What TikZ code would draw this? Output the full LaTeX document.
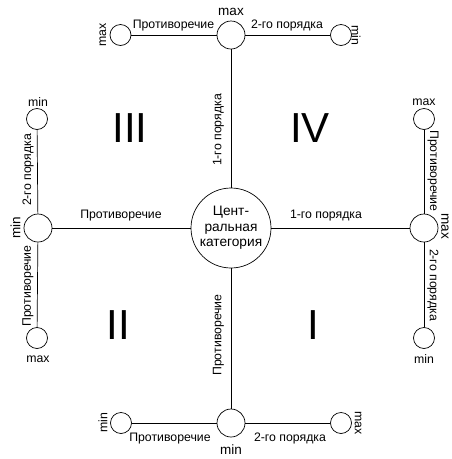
\documentclass[tikz,border=0pt]{standalone}
\usepackage{fontspec}
\setmainfont{Liberation Sans}
\begin{document}
\begin{tikzpicture}[x=1pt,y=-1pt,
  big/.style={draw,circle,line width=0.7pt,minimum size=80pt,inner sep=0pt},
  mid/.style={draw,circle,line width=0.7pt,minimum size=28pt,inner sep=0pt},
  sml/.style={draw,circle,line width=0.7pt,minimum size=21pt,inner sep=0pt},
  lbl/.style={inner sep=0pt,font=\fontsize{12.3pt}{13pt}\selectfont},
  bigl/.style={inner sep=0pt,font=\fontsize{13.5pt}{14pt}\selectfont},
  roman/.style={inner sep=0pt,font=\fontsize{42pt}{44pt}\selectfont},
  conn/.style={line width=0.7pt}]
\useasboundingbox (0,0) rectangle (452,459);
% circles
\node[big,align=center,font=\fontsize{13.7pt}{15.7pt}\selectfont] (c) at (231,228) {Цент-\\ральная\\категория};
\node[mid] (t) at (231,35) {};
\node[sml] (tl) at (120.5,35) {};
\node[sml] (tr) at (341,35) {};
\node[mid] (l) at (38,228) {};
\node[sml] (lt) at (37,119) {};
\node[sml] (lb) at (37,338) {};
\node[mid] (r) at (424,228) {};
\node[sml] (rt) at (424,119) {};
\node[sml] (rb) at (424,338) {};
\node[mid] (b) at (231,423) {};
\node[sml] (bl) at (121,423) {};
\node[sml] (br) at (341,423) {};
% connectors
\draw[conn] (c) -- (t);
\draw[conn] (t) -- (tl);
\draw[conn] (t) -- (tr);
\draw[conn] (c) -- (l);
\draw[conn] (l) -- (lt);
\draw[conn] (l) -- (lb);
\draw[conn] (c) -- (r);
\draw[conn] (r) -- (rt);
\draw[conn] (r) -- (rb);
\draw[conn] (c) -- (b);
\draw[conn] (b) -- (bl);
\draw[conn] (b) -- (br);
% roman numerals
\node[roman] (q3) at (130,128) {III};
\node[roman] (q4) at (310,128) {IV};
\node[roman] (q2) at (118,325) {II};
\node[roman] (q1) at (313,325) {I};
% top labels
\node[bigl] (tmax) at (231,12) {max};
\node[lbl,anchor=base] (tp) at (173.5,28.5) {Противоречие};
\node[lbl,anchor=base] (t2) at (287,28.5) {2-го порядка};
\node[lbl,rotate=90] (tlmax) at (103,35) {max};
\node[lbl,rotate=-90] (trmin) at (356,35) {min};
\node[lbl,rotate=90] (t1) at (218.5,130) {1-го порядка};
% left labels
\node[lbl] (ltmin) at (38,102) {min};
\node[lbl,rotate=90] (l2) at (28,170) {2-го порядка};
\node[bigl,rotate=90] (lmin) at (15.5,228) {min};
\node[lbl,rotate=90] (lp) at (28,286) {Противоречие};
\node[lbl] (lbmax) at (38,359) {max};
\node[lbl,anchor=base] (cp) at (121,218.5) {Противоречие};
% right labels
\node[lbl,anchor=base] (c1) at (326,218.5) {1-го порядка};
\node[lbl] (rtmax) at (424,102) {max};
\node[lbl,rotate=-90] (rp) at (433,171) {Противоречие};
\node[bigl,rotate=-90] (rmax) at (445,226) {max};
\node[lbl,rotate=-90] (r2) at (433,285) {2-го порядка};
\node[lbl] (rbmin) at (424,359) {min};
% bottom labels
\node[lbl,rotate=90] (bp) at (218.5,335) {Противоречие};
\node[lbl,anchor=base] (bpl) at (170,441) {Противоречие};
\node[lbl,anchor=base] (b2) at (290,441) {2-го порядка};
\node[bigl] (bmin) at (231,450) {min};
\node[lbl,rotate=90] (blmin) at (103,423) {min};
\node[lbl,rotate=-90] (brmax) at (358,423) {max};
\end{tikzpicture}
\end{document}
